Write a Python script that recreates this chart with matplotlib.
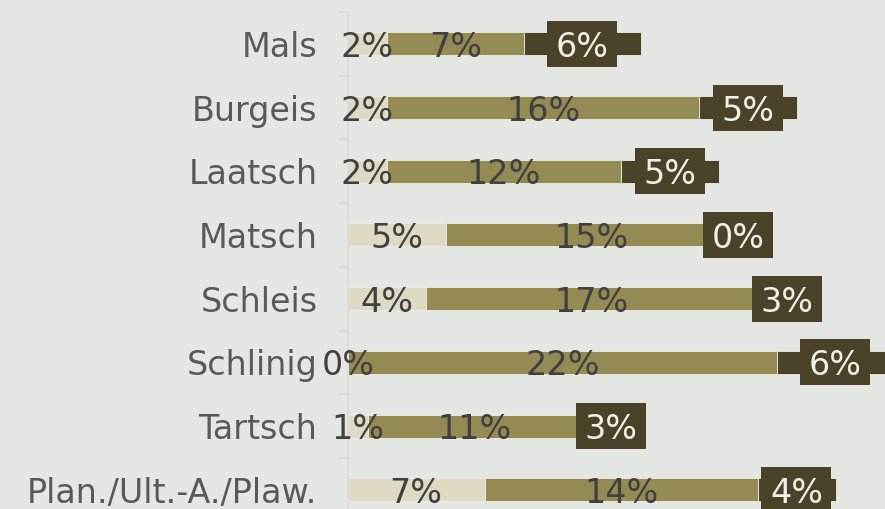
import matplotlib
matplotlib.use("Agg")
import matplotlib.pyplot as plt
import numpy as np

categories = ["Mals", "Burgeis", "Laatsch", "Matsch", "Schleis", "Schlinig", "Tartsch", "Plan./Ult.-A./Plaw."]
seg_light = [2, 2, 2, 5, 4, 0, 1, 7]
seg_mid = [7, 16, 12, 15, 17, 22, 11, 14]
seg_dark = [6, 5, 5, 0, 3, 6, 3, 4]

bg = "#E4E6E4"
c_light = "#DDD9C3"
c_mid = "#948A54"
c_dark = "#4A4229"

W, H = 885, 509
fig = plt.figure(figsize=(W / 100, H / 100), dpi=100)
fig.patch.set_facecolor(bg)

row_px = 63.7
top_px = 12
ax_h = 8 * row_px
left_px = 348
px_per_unit = 19.5
ax = fig.add_axes([left_px / W, (H - top_px - ax_h) / H, 1 - left_px / W, ax_h / H])
ax.set_facecolor(bg)

y = np.arange(len(categories))
light = np.array(seg_light, float)
mid = np.array(seg_mid, float)
dark = np.array(seg_dark, float)

bh = 0.36
ec = "#EDEDE3"
ax.barh(y, light, height=bh, color=c_light, edgecolor=ec, linewidth=0.6, zorder=2)
ax.barh(y, mid, left=light, height=bh, color=c_mid, edgecolor=ec, linewidth=0.6, zorder=2)
ax.barh(y, dark, left=light + mid, height=bh, color=c_dark, edgecolor=ec, linewidth=0.6, zorder=2)

# label boxes for the dark segment, centred on it
box_w = 70 / px_per_unit
box_h = 46 / row_px
xc = light + mid + dark / 2
boxes = ax.barh(y, np.full(len(y), box_w), left=xc - box_w / 2, height=box_h,
                color=c_dark, linewidth=0, zorder=3)
for b in boxes:
    b.set_clip_on(False)

fs = 24
va = "center_baseline"
for i in range(len(categories)):
    ax.text(light[i] / 2, y[i], f"{seg_light[i]}%", ha="center", va=va,
            fontsize=fs, color="#404040", clip_on=False, zorder=4)
    ax.text(light[i] + mid[i] / 2, y[i], f"{seg_mid[i]}%", ha="center", va=va,
            fontsize=fs, color="#404040", clip_on=False, zorder=4)
    ax.text(xc[i], y[i], f"{seg_dark[i]}%", ha="center", va=va,
            fontsize=fs, color="#F2F0E6", clip_on=False, zorder=4)

ax.set_xlim(0, (W - left_px) / px_per_unit)
ax.set_ylim(len(categories) - 0.5, -0.5)
ax.set_yticks(y)
ax.set_yticklabels(categories, fontsize=fs, color="#595959", va=va)
ax.tick_params(axis="y", which="major", length=0, pad=22)
ax.set_yticks(np.arange(-0.5, len(categories), 1.0), minor=True)
ax.tick_params(axis="y", which="minor", length=7.5, width=1.2, color="#D9D9D9")
ax.set_xticks([])
for s in ["top", "right", "bottom"]:
    ax.spines[s].set_visible(False)
ax.spines["left"].set_color("#D9D9D9")
ax.spines["left"].set_linewidth(1.2)

fig.savefig("out.png", dpi=100, facecolor=bg)
